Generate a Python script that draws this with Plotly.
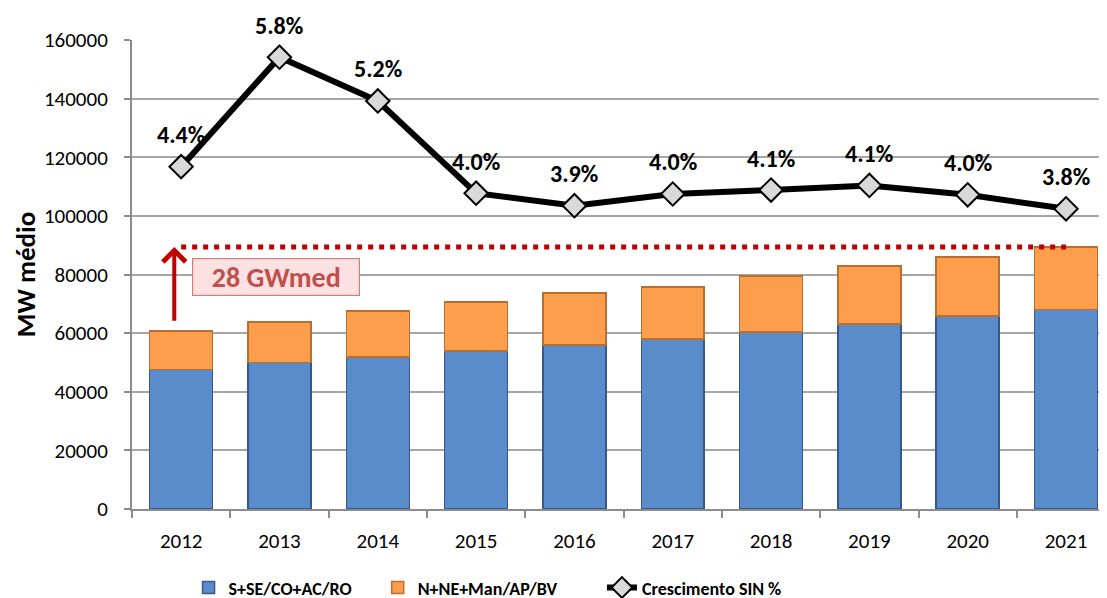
import plotly.graph_objects as go

years = ["2012", "2013", "2014", "2015", "2016", "2017", "2018", "2019", "2020", "2021"]
s_se = [47600, 50000, 51800, 53900, 55900, 58000, 60400, 63100, 65800, 68100]
totals = [60700, 63800, 67500, 70600, 73700, 75700, 79500, 82900, 86000, 89400]
n_ne = [t - s for t, s in zip(totals, s_se)]
growth = [4.38, 5.78, 5.22, 4.04, 3.88, 4.03, 4.08, 4.14, 4.02, 3.84]
growth_labels = [f"{g:.1f}%" for g in growth]
y_ticks = [0, 20000, 40000, 60000, 80000, 100000, 120000, 140000, 160000]
gap_label = "28 GWmed"

Y_MAX = 160000
Y2_MAX = 6.0

FONT = "Carlito, 'Liberation Sans', Arial, sans-serif"
LEG_FONT = dict(family=FONT, size=18, color="black", weight="bold")

fig = go.Figure()
fig.add_trace(go.Bar(
    x=years, y=s_se, name="S+SE/CO+AC/RO", legend="legend",
    marker=dict(color="#5A8BCB", line=dict(color="#34598A", width=1.5)),
))
fig.add_trace(go.Bar(
    x=years, y=n_ne, name="N+NE+Man/AP/BV", legend="legend2",
    marker=dict(color="#FC9E4C", line=dict(color="#B86E30", width=1.5)),
))
fig.add_trace(go.Scatter(
    x=years, y=growth, name="Crescimento SIN %", yaxis="y2", legend="legend3",
    mode="lines+markers",
    line=dict(color="black", width=6),
    marker=dict(symbol="diamond", size=18, color="#D9D9D9",
                line=dict(color="black", width=2)),
))

annotations = []
for i, (g, lab) in enumerate(zip(growth, growth_labels)):
    annotations.append(dict(
        x=i, y=g, xref="x", yref="y2", text=f"<b>{lab}</b>",
        showarrow=False, yshift=32,
        font=dict(family=FONT, size=24, color="black"),
    ))

# Arrow showing the gap between 2012 and 2021 totals
annotations.append(dict(
    x=-0.07, y=totals[-1], xref="x", yref="y",
    ax=-0.07, ay=totals[0] + 3000, axref="x", ayref="y",
    showarrow=True, arrowhead=4, arrowsize=1.1, arrowwidth=4,
    arrowcolor="#C00000", text="",
))
annotations.append(dict(
    x=0.96, y=(totals[0] + totals[-1]) / 2 + 4000, xref="x", yref="y",
    text=f"<b>{gap_label}</b>", showarrow=False,
    font=dict(family=FONT, size=28, color="#C0504D"),
    bgcolor="#FBE1E1", bordercolor="#D77B7B", borderwidth=1.2,
    width=162, height=32, borderpad=2,
))

leg_common = dict(orientation="h", y=-0.168, yanchor="middle", xanchor="left",
                  font=LEG_FONT, itemwidth=30, bgcolor="rgba(0,0,0,0)")

fig.update_layout(
    width=1099, height=598,
    margin=dict(l=124, r=0, t=32, b=97, autoexpand=False),
    paper_bgcolor="white", plot_bgcolor="white",
    barmode="stack", bargap=0.36,
    font=dict(family=FONT, size=21, color="black"),
    showlegend=True,
    legend=dict(x=0.058, **leg_common),
    legend2=dict(x=0.252, **leg_common),
    legend3=dict(x=0.482, **leg_common),
    xaxis=dict(
        type="category", range=[-0.5, 9.417], automargin=False,
        showline=True, linecolor="#8C8C8C", linewidth=2,
        ticks="outside", tickson="boundaries", ticklen=7, tickcolor="#8C8C8C",
        tickwidth=2, showgrid=False, ticklabelstandoff=12,
        tickfont=dict(family=FONT, size=21, color="black"),
    ),
    yaxis=dict(
        range=[0, Y_MAX], tickvals=y_ticks, automargin=False,
        ticktext=[str(v) for v in y_ticks],
        showline=True, linecolor="#8C8C8C", linewidth=2,
        ticks="outside", ticklen=6, tickcolor="#8C8C8C", tickwidth=2,
        ticklabelstandoff=12,
        showgrid=True, gridcolor="#A6A6A6", gridwidth=1.5,
        zeroline=False,
        tickfont=dict(family=FONT, size=21, color="black"),
        title=dict(text="<b>MW médio</b>", font=dict(family=FONT, size=27, color="black"), standoff=0),
    ),
    yaxis2=dict(
        overlaying="y", range=[0, Y2_MAX], automargin=False,
        showgrid=False, showline=False, showticklabels=False, ticks="", zeroline=False,
        side="right",
    ),
    annotations=annotations,
)

# Red dotted reference line at the 2021 total level
fig.add_shape(
    type="line", xref="x", yref="y",
    x0=0, x1=9.03, y0=totals[-1], y1=totals[-1],
    line=dict(color="#C00000", width=5, dash="5px,6px"),
)

fig.write_html("out.html")
